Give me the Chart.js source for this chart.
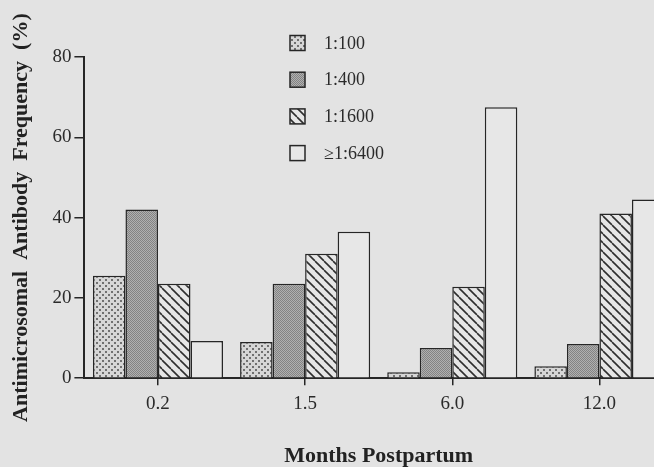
<!DOCTYPE html>
<html>
<head>
<meta charset="utf-8">
<script src="https://cdn.jsdelivr.net/npm/chart.js@4"></script>
<style>
  html, body { margin: 0; padding: 0; background: #e3e3e3; overflow: hidden; }
  #wrap { width: 654px; height: 467px; overflow: hidden; }
</style>
</head>
<body>
<div id="wrap"><canvas id="chart" width="680" height="467"></canvas></div>
<script>
const months = ['0.2', '1.5', '6.0', '12.0'];
const titreLabels = ['1:100', '1:400', '1:1600', '\u22651:6400'];

const titre100 = [25.5, 9, 1.5, 3];
const titre400 = [42, 23.5, 7.5, 8.5];
const titre1600 = [23.5, 31, 22.75, 41];
const titre6400 = [9.25, 36.5, 67.5, 44.5];

const yTicks = [0, 20, 40, 60, 80];

const ink = '#262626';
const serif = '"Liberation Serif", "Times New Roman", serif';

function makeTile(size, draw) {
    const c = document.createElement('canvas');
    c.width = size;
    c.height = size;
    draw(c.getContext('2d'), size);
    return c.getContext('2d').createPattern(c, 'repeat');
}

// light stipple
const dotFill = makeTile(6, (g, s) => {
    g.fillStyle = '#d6d6d6';
    g.fillRect(0, 0, s, s);
    g.fillStyle = '#707070';
    g.fillRect(0, 0, 2, 2);
    g.fillRect(3, 3, 2, 2);
});

// dense dark stipple
const greyFill = makeTile(2, (g, s) => {
    g.fillStyle = '#b0b0b0';
    g.fillRect(0, 0, s, s);
    g.fillStyle = '#838383';
    g.fillRect(0, 0, 1, 1);
    g.fillRect(1, 1, 1, 1);
});

// diagonal hatching
const hatchFill = makeTile(9, (g, s) => {
    g.fillStyle = '#e6e6e6';
    g.fillRect(0, 0, s, s);
    g.strokeStyle = '#2e2e2e';
    g.lineWidth = 1.6;
    [-s, 0, s].forEach(k => {
        g.beginPath();
        g.moveTo(k, 0);
        g.lineTo(k + s, s);
        g.stroke();
    });
});

const fills = [dotFill, greyFill, hatchFill, '#e7e7e7'];
const series = [titre100, titre400, titre1600, titre6400];

// vertical key inside the plot, as in the figure
const keyPlugin = {
    id: 'key',
    afterDraw(chart) {
        const ctx = chart.ctx;
        ctx.save();
        chart.data.datasets.forEach((ds, i) => {
            const y = 43 + i * 36.7;
            ctx.fillStyle = ds.backgroundColor;
            ctx.fillRect(290, y - 7.5, 15, 15);
            ctx.strokeStyle = ink;
            ctx.lineWidth = 1.5;
            ctx.strokeRect(290, y - 7.5, 15, 15);
            ctx.fillStyle = '#2a2a2a';
            ctx.font = '18px ' + serif;
            ctx.textBaseline = 'middle';
            ctx.fillText(ds.label, 324, y + 1);
        });
        ctx.restore();
    }
};

new Chart(document.getElementById('chart'), {
    type: 'bar',
    data: {
        labels: months,
        datasets: series.map((vals, i) => ({
            label: titreLabels[i],
            data: vals,
            backgroundColor: fills[i],
            borderColor: ink,
            borderWidth: 1.5,
            borderSkipped: 'bottom',
            barPercentage: 1,
            categoryPercentage: 0.884
        }))
    },
    options: {
        responsive: false,
        animation: false,
        devicePixelRatio: 1,
        layout: { padding: { top: 57, right: 7, bottom: 0, left: 0 } },
        plugins: {
            legend: { display: false },
            tooltip: { enabled: false }
        },
        scales: {
            x: {
                offset: true,
                grid: {
                    offset: false,
                    drawOnChartArea: false,
                    tickLength: 7,
                    color: ink,
                    lineWidth: 1.5
                },
                border: { color: ink, width: 2 },
                ticks: {
                    color: '#2a2a2a',
                    padding: 7,
                    font: { family: serif, size: 19 }
                },
                title: {
                    display: true,
                    text: 'Months Postpartum',
                    color: '#222',
                    font: { family: serif, size: 22, weight: 'bold', lineHeight: 1 },
                    padding: { top: 23, bottom: 0 }
                }
            },
            y: {
                min: 0,
                max: 80,
                afterBuildTicks: axis => {
                    axis.ticks = yTicks.map(v => ({ value: v }));
                },
                grid: {
                    drawOnChartArea: false,
                    tickLength: 10,
                    color: ink,
                    lineWidth: 1.5
                },
                border: { color: ink, width: 2 },
                ticks: {
                    color: '#2a2a2a',
                    padding: 3,
                    font: { family: serif, size: 19 }
                },
                title: {
                    display: true,
                    text: 'Antimicrosomal  Antibody  Frequency  (%)',
                    color: '#222',
                    font: { family: serif, size: 22, weight: 'bold' },
                    padding: { top: 8, bottom: 15 }
                }
            }
        }
    },
    plugins: [keyPlugin]
});
</script>
</body>
</html>
